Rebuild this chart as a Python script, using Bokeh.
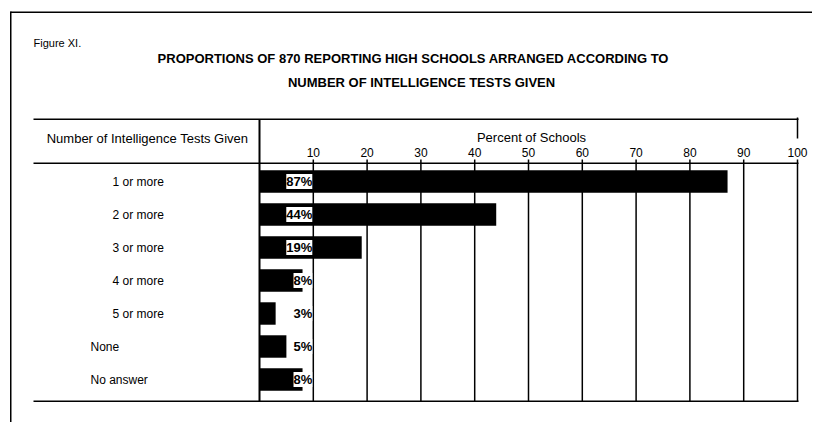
from bokeh.plotting import figure
from bokeh.models import ColumnDataSource, Range1d, LabelSet, Label, BoxAnnotation
from bokeh.core.properties import value
from bokeh.embed import file_html
from bokeh.resources import INLINE

# ---- data ----
categories = ["1 or more", "2 or more", "3 or more", "4 or more", "5 or more", "None", "No answer"]
percents = [87, 44, 19, 8, 3, 5, 8]
pct_labels = ["87%", "44%", "19%", "8%", "3%", "5%", "8%"]
x_ticks = [10, 20, 30, 40, 50, 60, 70, 80, 90, 100]
tick_labels = ["10", "20", "30", "40", "50", "60", "70", "80", "90", "100"]
title_lines = ["PROPORTIONS OF 870 REPORTING HIGH SCHOOLS ARRANGED ACCORDING TO",
               "NUMBER OF INTELLIGENCE TESTS GIVEN"]
figure_label = "Figure XI."
row_header = "Number of Intelligence Tests Given"
x_title = "Percent of Schools"

# ---- layout (canvas pixels) ----
FONT = "Liberation Sans"
W, H = 812, 422
FL, FR = 259, 797          # x = 0 and x = 100
TABLE_TOP, HEAD, BOTTOM = 119, 163, 401
ROW0, ROW_STEP = 181, 33
PXX = (FR - FL) / 100.0
X0 = -FL / PXX
Y0 = -ROW0 / ROW_STEP


def cx(px):
    return X0 + px / PXX


def cy(py):
    return Y0 + py / ROW_STEP


rows = list(range(len(categories)))
indented = [i for i, c in enumerate(categories) if "or more" in c]
flush = [i for i, c in enumerate(categories) if "or more" not in c]

src = ColumnDataSource(dict(row=rows, cat=categories, pct=percents, lab=pct_labels))
src_ind = ColumnDataSource(dict(row=[rows[i] for i in indented], cat=[categories[i] for i in indented]))
src_fl = ColumnDataSource(dict(row=[rows[i] for i in flush], cat=[categories[i] for i in flush]))
tick_src = ColumnDataSource(dict(t=x_ticks, lab=tick_labels))

p = figure(width=W, height=H, output_backend="svg", toolbar_location=None,
           x_range=Range1d(cx(0), cx(W)), y_range=Range1d(cy(H), cy(0)),
           x_axis_location=None, y_axis_location=None, title_location=None,
           min_border=0)
p.outline_line_color = None
p.background_fill_color = "white"
p.border_fill_color = "white"
p.xgrid.visible = False
p.ygrid.visible = False

# bars
p.hbar(y="row", left=0, right="pct", height=0.68, source=src,
       fill_color="black", line_color=None)

# grid lines with short tick marks above the header rule
p.segment(x0="t", x1="t", y0=cy(HEAD - 4), y1=cy(BOTTOM), source=tick_src,
          line_color="black", line_width=1.5)
# right border of table (at 100) rises to the top rule, interrupted by "100"
p.segment(x0=[x_ticks[-1]], x1=[x_ticks[-1]], y0=[cy(TABLE_TOP - 2)], y1=[cy(HEAD - 25)],
          line_color="black", line_width=1.5)
# value axis baseline (x = 0) from top rule to bottom rule
p.segment(x0=[0], x1=[0], y0=[cy(TABLE_TOP)], y1=[cy(BOTTOM)],
          line_color="black", line_width=2)

# tick labels
p.add_layout(LabelSet(x="t", y=cy(HEAD - 11), text="lab", source=tick_src,
                      text_align="center", text_baseline="middle",
                      text_font=value(FONT), text_font_size=value("12px"),
                      text_color="black"))

# percentage labels
p.add_layout(LabelSet(x=10, y="row", text="lab", source=src, x_offset=-1,
                      text_align="right", text_baseline="middle",
                      text_font=value(FONT), text_font_size=value("13px"),
                      text_font_style=value("bold"),
                      text_color="black", background_fill_color="white"))

# row labels
for s, px in ((src_ind, 112), (src_fl, 90)):
    p.add_layout(LabelSet(x=cx(px), y="row", text="cat", source=s,
                          text_align="left", text_baseline="middle",
                          text_font=value(FONT), text_font_size=value("12px"),
                          text_color="black"))


def txt(t, x, y, size="12px", style="normal", align="left"):
    p.add_layout(Label(x=x, y=y, x_units="canvas", y_units="canvas", text=t,
                       text_align=align, text_baseline="middle", text_font=FONT,
                       text_font_size=size, text_font_style=style, text_color="black"))


txt(figure_label, 33, 42, "11px")
txt(title_lines[0], 413, 58, "13px", "bold", "center")
txt(title_lines[1], 421, 82, "13px", "bold", "center")
txt(row_header, 147, 138, "13px", "normal", "center")
txt(x_title, 531, 137, "13px", "normal", "center")


def rule(l, r, t, b):
    p.add_layout(BoxAnnotation(left=l, right=r, top=t, bottom=b,
                               left_units="canvas", right_units="canvas",
                               top_units="canvas", bottom_units="canvas",
                               fill_color="black", fill_alpha=1, line_color=None))


rule(10, W, 11, 12.5)                        # outer top border
rule(9.5, 11, 11, H)                         # outer left border
rule(33, FR + 1, TABLE_TOP - 1, TABLE_TOP + 0.5)  # table top
rule(33, FR + 1, HEAD - 1, HEAD + 0.5)       # header rule
rule(33, FR + 1, BOTTOM - 1, BOTTOM + 0.5)   # bottom rule

open("out.html", "w").write(file_html(p, INLINE))
